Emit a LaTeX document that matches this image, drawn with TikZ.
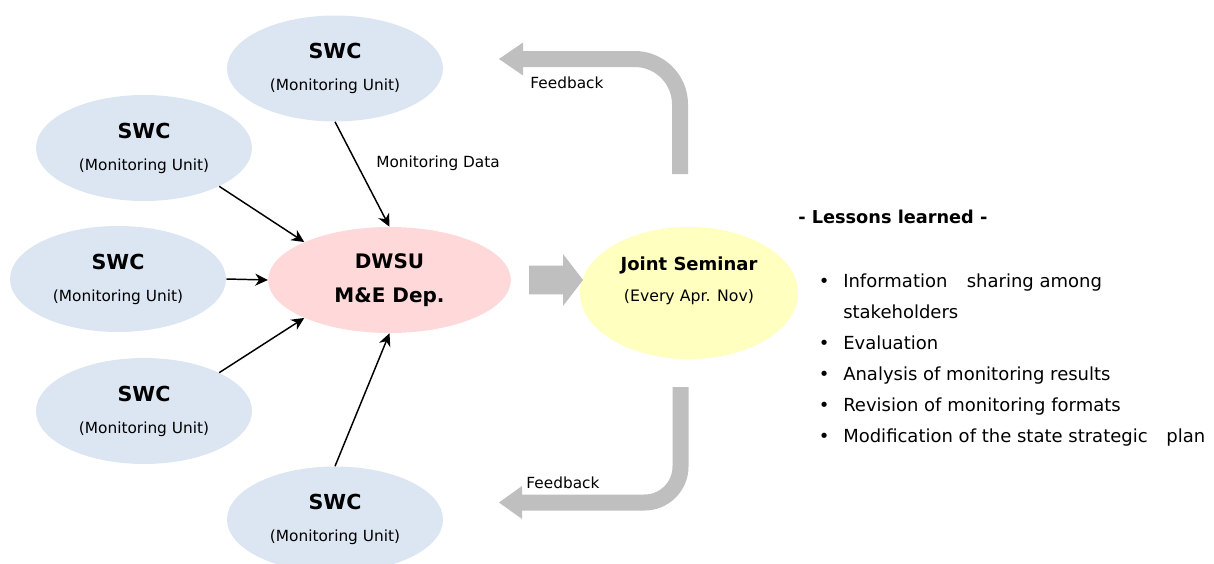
\documentclass[tikz,border=0pt]{standalone}
\usepackage{fontspec}
\setmainfont{DejaVu Sans}
\usepackage{tikz}
\usetikzlibrary{positioning,arrows.meta,shapes,calc}
\definecolor{swcblue}{RGB}{220,230,242}
\definecolor{dwsupink}{RGB}{255,217,217}
\definecolor{semyellow}{RGB}{255,255,191}
\definecolor{fbgray}{RGB}{191,191,191}
\tikzset{
  swc/.style={ellipse, fill=swcblue, inner sep=0pt, minimum width=162pt, minimum height=79.5pt,
    align=center, font=\fontsize{11.5}{24}\selectfont},
  dwsu/.style={ellipse, fill=dwsupink, inner sep=0pt, minimum width=182pt, minimum height=79.5pt,
    align=center, font=\bfseries\fontsize{15}{26}\selectfont},
  seminar/.style={ellipse, fill=semyellow, inner sep=0pt, minimum width=163.5pt, minimum height=99pt},
  dataflow/.style={draw=black, line width=1.1pt, -{Stealth[length=9.5pt,width=9pt,inset=3pt]}},
  feedback/.style={draw=fbgray, line width=12pt},
  bigarrow/.style={fill=fbgray},
  smalltxt/.style={inner sep=0pt, font=\fontsize{11.5}{14}\selectfont}
}
\newcommand{\swctext}{{\bfseries\fontsize{15.5}{24}\selectfont SWC}\\(Monitoring Unit)}
\newcommand{\bitem}{\makebox[28.5pt][c]{\textbullet}}

\begin{document}
\begin{tikzpicture}[x=0.75pt, y=-0.75pt]
    \useasboundingbox (0,0) rectangle (1214,564);

    \node[swc] (swc1) at (335,68.5)  {\swctext};
    \node[swc] (swc2) at (144,148)   {\swctext};
    \node[swc] (swc3) at (118,279)   {\swctext};
    \node[swc] (swc4) at (144,411)   {\swctext};
    \node[swc] (swc5) at (335,519.5) {\swctext};

    \node[dwsu] (dwsu) at (389.5,280) {DWSU\\M\&E Dep.};
    \node[seminar] (sem) at (689,293) {};
    \node[align=center, inner sep=0pt, font=\fontsize{11.8}{23}\selectfont] (semtext) at (689,281)
      {{\bfseries\fontsize{13.5}{23}\selectfont Joint Seminar}\\(Every Apr. Nov)};

    \draw[dataflow] (swc1.south) -- (dwsu.north);
    \draw[dataflow] (swc2.-27)   -- (dwsu.156);
    \draw[dataflow] (swc3.east)  -- (dwsu.west);
    \draw[dataflow] (swc4.27)    -- (dwsu.204);
    \draw[dataflow] (swc5.north) -- (dwsu.south);
    \node[smalltxt, anchor=west] (mdata) at (376,163) {Monitoring Data};

    % big arrow to the seminar
    \fill[bigarrow] (529,265.7) -- (563,265.7) -- (563,254) -- (583,280) -- (563,306)
      -- (563,294.3) -- (529,294.3) -- cycle;

    % feedback loops
    \coordinate (fb1s) at (680,174);
    \coordinate (fb1e) at (523,59);
    \draw[feedback, rounded corners=34pt] (fb1s) |- (fb1e);
    \fill[bigarrow] (523,42.5) -- (499,59) -- (523,75.5) -- cycle;
    \node[smalltxt] (fbtxt1) at (567,83) {Feedback};

    \coordinate (fb2s) at (680.5,387);
    \coordinate (fb2e) at (522,502.5);
    \draw[feedback, rounded corners=27pt] (fb2s) |- (fb2e);
    \fill[bigarrow] (522,486) -- (499,502.5) -- (522,519) -- cycle;
    \node[smalltxt] (fbtxt2) at (563,483) {Feedback};

    \node[anchor=west, inner sep=0pt, font=\bfseries\fontsize{13.3}{16}\selectfont] (lessons) at (798,217)
      {- Lessons learned -};
    \node[anchor=west, inner sep=0pt, align=left, font=\fontsize{13.5}{23.25}\selectfont] (lessonlist) at (805,360)
      {\bitem Information\hspace{14.5pt}sharing among\\
       \makebox[28.5pt]{}stakeholders\\
       \bitem Evaluation\\
       \bitem Analysis of monitoring results\\
       \bitem Revision of monitoring formats\\
       \bitem Modification of the state strategic\hspace{14pt}plan};
\end{tikzpicture}
\end{document}
